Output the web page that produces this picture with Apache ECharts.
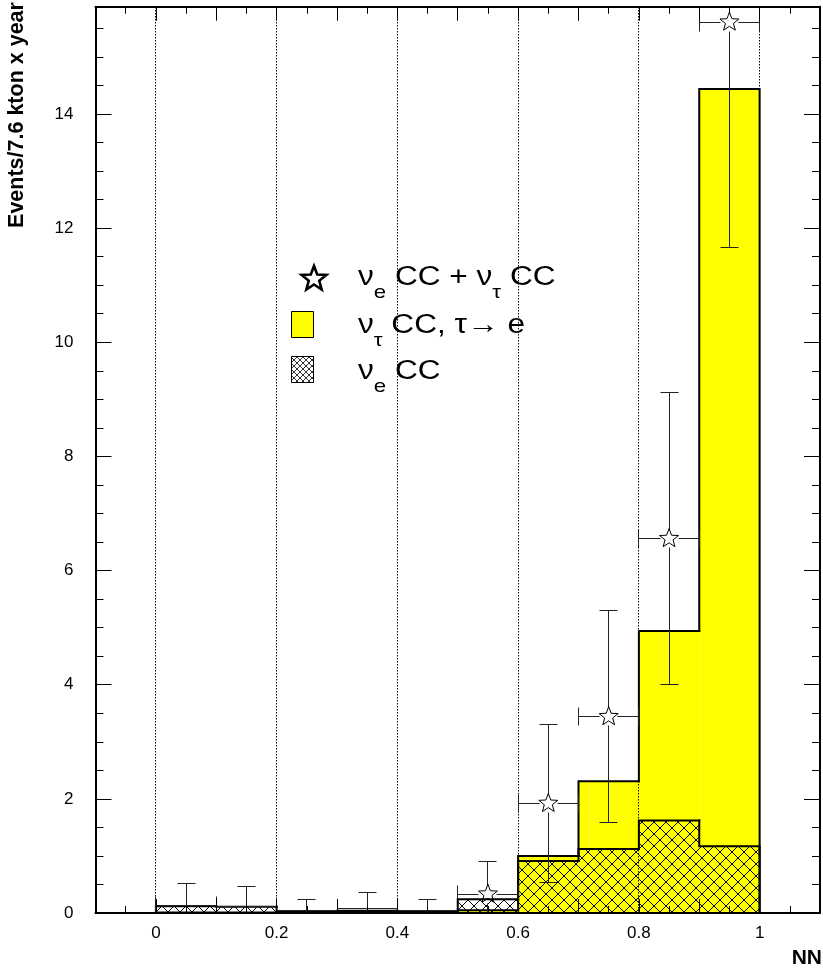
<!DOCTYPE html>
<html>
<head>
<meta charset="utf-8">
<script src="https://cdn.jsdelivr.net/npm/echarts@6/dist/echarts.min.js"></script>
<style>
html, body { margin: 0; padding: 0; background: #fff; }
#chart { width: 823px; height: 973px; }
</style>
</head>
<body>
<div id="chart"></div>
<script>
// NN output bins (width 0.1)
const binEdges = [0, 0.1, 0.2, 0.3, 0.4, 0.5, 0.6, 0.7, 0.8, 0.9, 1.0];
// nu_tau CC, tau -> e (yellow)
const nuTauCC = [0.01, 0.01, 0.01, 0.04, 0.01, 0.05, 1.00, 2.31, 4.94, 14.44];
// nu_e CC (hatched)
const nuECC = [0.12, 0.11, 0.02, 0.03, 0.03, 0.24, 0.91, 1.12, 1.62, 1.17];
// nu_e CC + nu_tau CC (stars) and their errors
const sumCC = [0.14, 0.12, 0.04, 0.08, 0.04, 0.33, 1.92, 3.44, 6.56, 15.61];
const sumErr = [0.38, 0.35, 0.20, 0.28, 0.20, 0.58, 1.39, 1.86, 2.56, 3.95];

const xTickValues = [0, 0.2, 0.4, 0.6, 0.8, 1];
const xTickLabels = ['0', '0.2', '0.4', '0.6', '0.8', '1'];
const yTickValues = [0, 2, 4, 6, 8, 10, 12, 14];
const yTickLabels = ['0', '2', '4', '6', '8', '10', '12', '14'];
const xGridValues = [0, 0.2, 0.4, 0.6, 0.8, 1];
const yGridValues = [2, 4, 6, 8, 10, 12, 14];
const xRange = [-0.1, 1.1];
const yRange = [0, 15.88];

const FONT = '"Liberation Sans", Arial, Helvetica, sans-serif';

function labelFor(values, labels) {
  return function (v) {
    const k = values.findIndex(t => Math.abs(t - v) < 1e-7);
    return k < 0 ? '' : labels[k];
  };
}

// cross-hatch tile used for the nu_e CC histogram
function hatchTile(p, lw) {
  const c = document.createElement('canvas');
  c.width = p; c.height = p;
  const g = c.getContext('2d');
  g.strokeStyle = '#000';
  g.lineWidth = lw;
  g.beginPath();
  for (let o = -p; o <= p; o += p) {
    g.moveTo(o, 0); g.lineTo(o + p, p);
    g.moveTo(o + p, 0); g.lineTo(o, p);
  }
  g.stroke();
  return c;
}
const hatchMain = { image: hatchTile(12, 1), repeat: 'repeat' };
const hatchSmall = { image: hatchTile(6, 0.8), repeat: 'repeat' };

function histRows(vals) {
  return vals.map((v, i) => [binEdges[i], binEdges[i + 1], v, i ? vals[i - 1] : 0]);
}
function errRows() {
  return sumCC.map((v, i) => [binEdges[i], binEdges[i + 1], v, sumErr[i]]);
}

function crisp(v) { return Math.round(v - 0.5) + 0.5; }

function fillRenderer(fill) {
  return function (params, api) {
    const p0 = api.coord([api.value(0), 0]);
    const p1 = api.coord([api.value(1), api.value(2)]);
    return {
      type: 'rect',
      shape: { x: p0[0], y: p1[1], width: p1[0] - p0[0], height: p0[1] - p1[1] },
      style: { fill: fill, stroke: null }
    };
  };
}

function outlineRenderer(count) {
  return function (params, api) {
    const x0 = api.value(0), x1 = api.value(1), v = api.value(2), prev = api.value(3);
    const a = api.coord([x0, prev]);
    const b = api.coord([x0, v]);
    const c = api.coord([x1, v]);
    const pts = [a, b, c];
    if (params.dataIndex === count - 1) pts.push(api.coord([x1, 0]));
    return {
      type: 'polyline',
      shape: { points: pts },
      style: { stroke: '#000', lineWidth: 2, fill: null, lineJoin: 'miter', lineCap: 'square' }
    };
  };
}

function starPoints(cx, cy, R, r) {
  const pts = [];
  for (let k = 0; k < 10; k++) {
    const ang = -Math.PI / 2 + k * Math.PI / 5;
    const rad = k % 2 ? r : R;
    pts.push([cx + rad * Math.cos(ang), cy + rad * Math.sin(ang)]);
  }
  return pts;
}

function errRenderer(params, api) {
  const x0 = api.value(0), x1 = api.value(1), v = api.value(2), e = api.value(3);
  const xc = (x0 + x1) / 2;
  const cs = params.coordSys;
  const top = cs.y, bottom = cs.y + cs.height;
  const c = api.coord([xc, v]);
  const L = api.coord([x0, v])[0], Rr = api.coord([x1, v])[0];
  const yT = api.coord([xc, v + e])[1], yB = api.coord([xc, v - e])[1];
  const R = 10;
  const showStar = c[1] + R <= bottom;
  const gap = showStar ? 9 : 0;
  const X = crisp(c[0]), Y = crisp(c[1]);
  const st = { stroke: '#222', lineWidth: 1 };
  const kids = [];
  const line = (x1_, y1_, x2_, y2_) => kids.push({ type: 'line', shape: { x1: x1_, y1: y1_, x2: x2_, y2: y2_ }, style: st });
  const cap = 9;
  // vertical error
  const yTop = Math.max(yT, top), yBot = Math.min(yB, bottom);
  line(X, yTop, X, Math.max(Y - gap, yTop));
  line(X, Math.min(Y + gap, yBot), X, yBot);
  if (yT >= top) line(X - cap, crisp(yT), X + cap, crisp(yT));
  if (yB <= bottom) line(X - cap, crisp(yB), X + cap, crisp(yB));
  // horizontal error (bin width)
  line(crisp(L), Y, X - gap, Y);
  line(X + gap, Y, crisp(Rr), Y);
  line(crisp(L), Math.max(Y - cap, top), crisp(L), Math.min(Y + cap, bottom));
  line(crisp(Rr), Math.max(Y - cap, top), crisp(Rr), Math.min(Y + cap, bottom));
  if (showStar) {
    kids.push({
      type: 'polygon',
      shape: { points: starPoints(c[0], c[1], R, R * 0.42) },
      style: { fill: null, stroke: '#000', lineWidth: 1 }
    });
  }
  return { type: 'group', children: kids };
}

function gridRenderer(vertical) {
  return function (params, api) {
    const cs = params.coordSys;
    const v = api.value(0);
    let shape;
    if (vertical) {
      const x = crisp(api.coord([v, 0])[0]);
      shape = { x1: x, y1: Math.round(cs.y), x2: x, y2: Math.round(cs.y + cs.height) };
    } else {
      const y = crisp(api.coord([0, v])[1]);
      shape = { x1: Math.round(cs.x), y1: y, x2: Math.round(cs.x + cs.width), y2: y };
    }
    return { type: 'line', shape: shape, style: { stroke: '#000', lineWidth: 1, lineDash: [1.5, 1.5] } };
  };
}

// text helpers for the legend (main text with subscripts)
const measureCtx = document.createElement('canvas').getContext('2d');
function textRun(x, baseline, parts, mainSize, subSize, subDrop, sx) {
  const els = [];
  let cx = x;
  parts.forEach(([t, sub]) => {
    const size = sub ? subSize : mainSize;
    const font = size + 'px ' + FONT;
    measureCtx.font = font;
    const y = baseline + (sub ? subDrop : 0) - 0.3465 * size;
    els.push({ type: 'text', x: cx, y: y, scaleX: sx, silent: true, style: { text: t, font: font, fill: '#000', align: 'left', verticalAlign: 'middle' } });
    cx += measureCtx.measureText(t).width * sx;
  });
  return els;
}

const legendX = 358, mainSize = 27, subSize = 19, subDrop = 12, legendScale = 1.17;
const legendEls = [].concat(
  textRun(legendX, 287, [['ν', false], ['e', true], [' CC + ν', false], ['τ', true], [' CC', false]], mainSize, subSize, subDrop, legendScale),
  textRun(legendX, 335, [['ν', false], ['τ', true], [' CC, τ→ e', false]], mainSize, subSize, subDrop, legendScale),
  textRun(legendX, 381, [['ν', false], ['e', true], [' CC', false]], mainSize, subSize, subDrop, legendScale)
);
legendEls.push(
  { type: 'polygon', shape: { points: starPoints(314, 279, 13, 5.5) }, style: { fill: '#fff', stroke: '#000', lineWidth: 2.6 } },
  { type: 'rect', shape: { x: 291.5, y: 311.5, width: 22, height: 26 }, style: { fill: '#ffff00', stroke: '#000', lineWidth: 1 } },
  { type: 'rect', shape: { x: 291.5, y: 356.5, width: 22, height: 26 }, style: { fill: '#fff', stroke: null } },
  { type: 'rect', shape: { x: 291.5, y: 356.5, width: 22, height: 26 }, style: { fill: hatchSmall, stroke: '#000', lineWidth: 1 } }
);

const axisCommon = {
  type: 'value',
  z: 10,
  axisLine: { show: true, onZero: false, lineStyle: { color: '#000', width: 2 } },
  splitLine: { show: false },
  minorSplitLine: { show: false }
};

const chart = echarts.init(document.getElementById('chart'), null, { renderer: 'canvas' });
chart.setOption({
  animation: false,
  backgroundColor: '#fff',
  grid: { left: 95.5, right: 1.5, top: 6.7, bottom: 60, containLabel: false },
  xAxis: [
    Object.assign({}, axisCommon, {
      position: 'bottom', min: xRange[0], max: xRange[1], interval: 0.1,
      axisTick: { show: true, inside: true, length: 14, lineStyle: { color: '#000', width: 1 } },
      minorTick: { show: true, splitNumber: 2, length: 7, lineStyle: { color: '#000', width: 1 } },
      axisLabel: { show: true, formatter: labelFor(xTickValues, xTickLabels), margin: 12, color: '#000', fontSize: 17, fontFamily: FONT, showMinLabel: true, showMaxLabel: true, hideOverlap: false }
    }),
    Object.assign({}, axisCommon, {
      position: 'top', min: xRange[0], max: xRange[1], interval: 0.1,
      axisTick: { show: true, inside: true, length: 14, lineStyle: { color: '#000', width: 1 } },
      minorTick: { show: true, splitNumber: 2, length: 7, lineStyle: { color: '#000', width: 1 } },
      axisLabel: { show: false }
    })
  ],
  yAxis: [
    Object.assign({}, axisCommon, {
      position: 'left', min: yRange[0], max: yRange[1], interval: 2,
      axisTick: { show: true, inside: true, length: 16, lineStyle: { color: '#000', width: 1 } },
      minorTick: { show: true, splitNumber: 4, length: 8, lineStyle: { color: '#000', width: 1 } },
      axisLabel: { show: true, formatter: labelFor(yTickValues, yTickLabels), margin: 22, color: '#000', fontSize: 17, fontFamily: FONT, showMaxLabel: false }
    }),
    Object.assign({}, axisCommon, {
      position: 'right', min: yRange[0], max: yRange[1], interval: 2,
      axisTick: { show: true, inside: true, length: 16, lineStyle: { color: '#000', width: 1 } },
      minorTick: { show: true, splitNumber: 4, length: 8, lineStyle: { color: '#000', width: 1 } },
      axisLabel: { show: false }
    })
  ],
  series: [
    { type: 'custom', name: 'nuTau', z: 1, renderItem: fillRenderer('#ffff00'), data: histRows(nuTauCC), encode: { x: [0, 1], y: 2 } },
    { type: 'custom', name: 'nuE', z: 2, renderItem: fillRenderer(hatchMain), data: histRows(nuECC), encode: { x: [0, 1], y: 2 } },
    { type: 'custom', name: 'nuTauLine', z: 3, renderItem: outlineRenderer(nuTauCC.length), data: histRows(nuTauCC), encode: { x: [0, 1], y: 2 } },
    { type: 'custom', name: 'nuELine', z: 3, renderItem: outlineRenderer(nuECC.length), data: histRows(nuECC), encode: { x: [0, 1], y: 2 } },
    { type: 'custom', name: 'gridX', z: 4, silent: true, renderItem: gridRenderer(true), data: xGridValues.map(v => [v, 0]), encode: { x: 0, y: 1 } },
    { type: 'custom', name: 'gridY', z: 4, silent: true, renderItem: gridRenderer(false), data: yGridValues.map(v => [0, v]), encode: { x: 0, y: 1 } },
    { type: 'custom', name: 'sum', z: 5, renderItem: errRenderer, data: errRows(), encode: { x: [0, 1], y: 2 } }
  ],
  graphic: [
    { type: 'text', x: 17, y: 115, rotation: Math.PI / 2, silent: true, style: { text: 'Events/7.6 kton x year', font: 'bold 21.5px ' + FONT, fill: '#000', align: 'center', verticalAlign: 'middle' } },
    { type: 'text', x: 822, y: 958, silent: true, style: { text: 'NN', font: 'bold 21px ' + FONT, fill: '#000', align: 'right', verticalAlign: 'middle' } }
  ].concat(legendEls)
});
</script>
</body>
</html>
